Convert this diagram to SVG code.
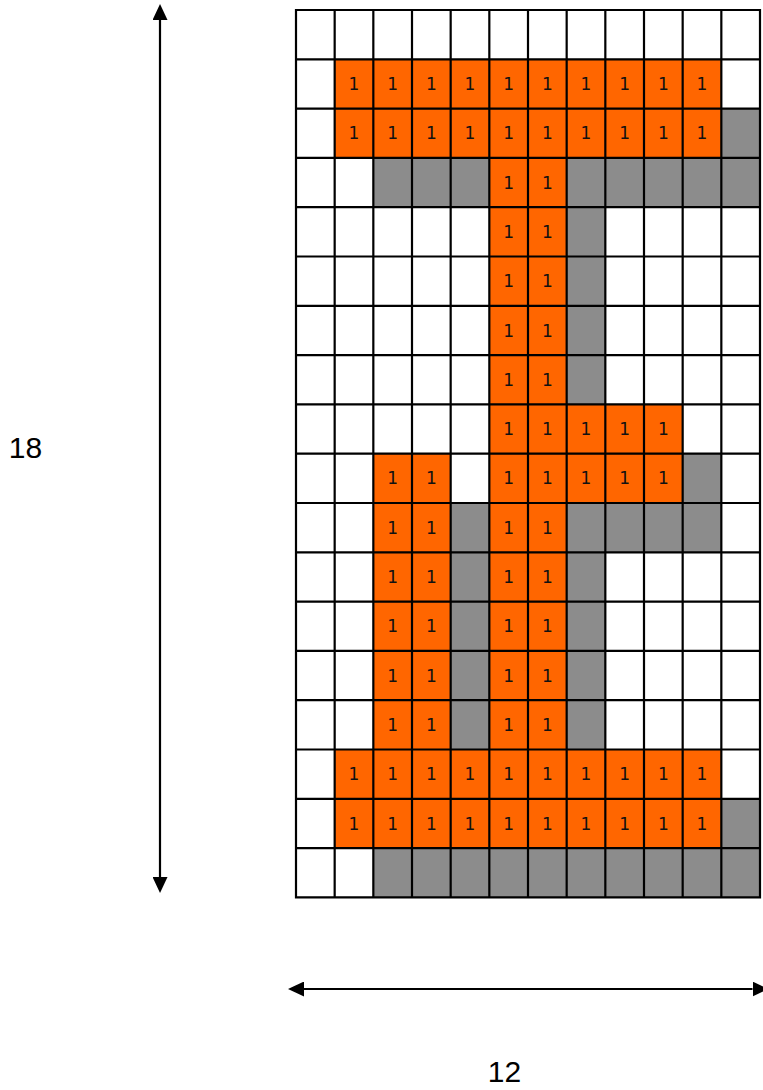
<svg xmlns="http://www.w3.org/2000/svg" width="763" height="1090" viewBox="0 0 763 1090">
<style>
.o{fill:#FF6600}
.g{fill:#8C8C8C}
.n{font-family:"DejaVu Sans",sans-serif;font-size:17px;fill:#111;text-anchor:middle}
.lbl{font-family:"Liberation Sans",Arial,sans-serif;font-size:30px;fill:#000;text-anchor:middle}
.ln{stroke:#000;stroke-width:2.2;fill:none}
</style>
<defs>
<marker id="ah" viewBox="0 0 16 15" refX="0" refY="7.5" markerWidth="16" markerHeight="15" markerUnits="userSpaceOnUse" orient="auto-start-reverse">
<path d="M0,0 L16,7.5 L0,15 Z" fill="#000"/>
</marker>
</defs>
<rect width="763" height="1090" fill="#fff"/>
<g id="grid">
<rect x="296" y="10" width="464" height="887.4" fill="#fff"/>
<g id="orange-cells">
<rect class="o" x="334.67" y="59.3" width="386.67" height="98.6"/>
<rect class="o" x="489.33" y="157.9" width="77.34" height="690.2"/>
<rect class="o" x="566.67" y="404.4" width="116" height="98.6"/>
<rect class="o" x="373.33" y="453.7" width="77.34" height="295.8"/>
<rect class="o" x="334.67" y="749.5" width="386.67" height="98.6"/>
</g>
<g id="gray-cells">
<rect class="g" x="721.33" y="108.6" width="38.67" height="49.3"/>
<rect class="g" x="566.67" y="157.9" width="193.33" height="49.3"/>
<rect class="g" x="373.33" y="157.9" width="116" height="49.3"/>
<rect class="g" x="566.67" y="207.2" width="38.67" height="197.2"/>
<rect class="g" x="682.67" y="453.7" width="38.67" height="49.3"/>
<rect class="g" x="566.67" y="503" width="154.67" height="49.3"/>
<rect class="g" x="566.67" y="552.3" width="38.67" height="197.2"/>
<rect class="g" x="450.67" y="503" width="38.67" height="246.5"/>
<rect class="g" x="721.33" y="798.8" width="38.67" height="49.3"/>
<rect class="g" x="373.33" y="848.1" width="386.67" height="49.3"/>
</g>
<path class="ln" d="M296,9 V898.4 M334.67,10 V897.4 M373.33,10 V897.4 M412,10 V897.4 M450.67,10 V897.4 M489.33,10 V897.4 M528,10 V897.4 M566.67,10 V897.4 M605.33,10 V897.4 M644,10 V897.4 M682.67,10 V897.4 M721.33,10 V897.4 M760,9 V898.4 M295,10 H761 M296,59.3 H760 M296,108.6 H760 M296,157.9 H760 M296,207.2 H760 M296,256.5 H760 M296,305.8 H760 M296,355.1 H760 M296,404.4 H760 M296,453.7 H760 M296,503 H760 M296,552.3 H760 M296,601.6 H760 M296,650.9 H760 M296,700.2 H760 M296,749.5 H760 M296,798.8 H760 M296,848.1 H760 M295,897.4 H761"/>
<g id="values" class="n" transform="translate(0,1)">
<text x="354" y="89">1</text><text x="392.67" y="89">1</text><text x="431.33" y="89">1</text><text x="470" y="89">1</text><text x="508.67" y="89">1</text><text x="547.33" y="89">1</text><text x="586" y="89">1</text><text x="624.67" y="89">1</text><text x="663.33" y="89">1</text><text x="702" y="89">1</text>
<text x="354" y="138.3">1</text><text x="392.67" y="138.3">1</text><text x="431.33" y="138.3">1</text><text x="470" y="138.3">1</text><text x="508.67" y="138.3">1</text><text x="547.33" y="138.3">1</text><text x="586" y="138.3">1</text><text x="624.67" y="138.3">1</text><text x="663.33" y="138.3">1</text><text x="702" y="138.3">1</text>
<text x="508.67" y="187.6">1</text><text x="547.33" y="187.6">1</text>
<text x="508.67" y="236.9">1</text><text x="547.33" y="236.9">1</text>
<text x="508.67" y="286.2">1</text><text x="547.33" y="286.2">1</text>
<text x="508.67" y="335.5">1</text><text x="547.33" y="335.5">1</text>
<text x="508.67" y="384.8">1</text><text x="547.33" y="384.8">1</text>
<text x="508.67" y="434.1">1</text><text x="547.33" y="434.1">1</text><text x="586" y="434.1">1</text><text x="624.67" y="434.1">1</text><text x="663.33" y="434.1">1</text>
<text x="392.67" y="483.4">1</text><text x="431.33" y="483.4">1</text><text x="508.67" y="483.4">1</text><text x="547.33" y="483.4">1</text><text x="586" y="483.4">1</text><text x="624.67" y="483.4">1</text><text x="663.33" y="483.4">1</text>
<text x="392.67" y="532.7">1</text><text x="431.33" y="532.7">1</text><text x="508.67" y="532.7">1</text><text x="547.33" y="532.7">1</text>
<text x="392.67" y="582">1</text><text x="431.33" y="582">1</text><text x="508.67" y="582">1</text><text x="547.33" y="582">1</text>
<text x="392.67" y="631.3">1</text><text x="431.33" y="631.3">1</text><text x="508.67" y="631.3">1</text><text x="547.33" y="631.3">1</text>
<text x="392.67" y="680.6">1</text><text x="431.33" y="680.6">1</text><text x="508.67" y="680.6">1</text><text x="547.33" y="680.6">1</text>
<text x="392.67" y="729.9">1</text><text x="431.33" y="729.9">1</text><text x="508.67" y="729.9">1</text><text x="547.33" y="729.9">1</text>
<text x="354" y="779.2">1</text><text x="392.67" y="779.2">1</text><text x="431.33" y="779.2">1</text><text x="470" y="779.2">1</text><text x="508.67" y="779.2">1</text><text x="547.33" y="779.2">1</text><text x="586" y="779.2">1</text><text x="624.67" y="779.2">1</text><text x="663.33" y="779.2">1</text><text x="702" y="779.2">1</text>
<text x="354" y="828.5">1</text><text x="392.67" y="828.5">1</text><text x="431.33" y="828.5">1</text><text x="470" y="828.5">1</text><text x="508.67" y="828.5">1</text><text x="547.33" y="828.5">1</text><text x="586" y="828.5">1</text><text x="624.67" y="828.5">1</text><text x="663.33" y="828.5">1</text><text x="702" y="828.5">1</text>
</g>
</g>
<g id="connectors">
<line class="ln" x1="160" y1="20" x2="160" y2="877" marker-start="url(#ah)" marker-end="url(#ah)"/>
<line class="ln" x1="304" y1="989" x2="752.5" y2="989" marker-start="url(#ah)" marker-end="url(#ah)"/>
</g>
<g id="labels">
<text class="lbl" x="25.5" y="458">18</text>
<text class="lbl" x="504.5" y="1082">12</text>
</g>
</svg>
